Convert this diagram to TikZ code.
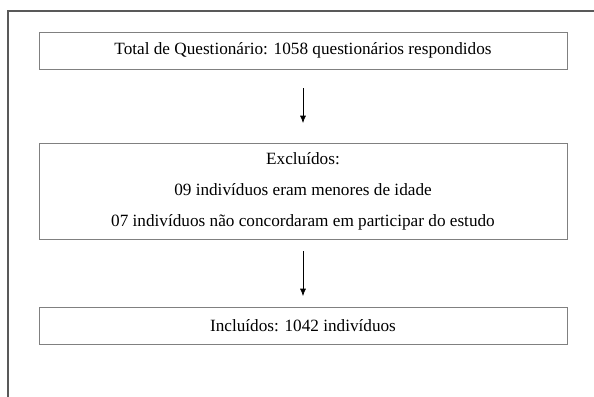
\documentclass[tikz,border=0pt]{standalone}
\usepackage{fontspec}
\setmainfont{Liberation Serif}
\usetikzlibrary{arrows.meta,positioning}

\begin{document}
\begin{tikzpicture}[x=0.75pt,y=-0.75pt,
  caixa/.style={draw=black!50,line width=0.75pt,minimum width=396pt,align=center,
    font=\fontsize{12.9}{23.25}\selectfont},
  seta/.style={-{Latex[length=5.5pt,width=4.5pt]},line width=0.5pt}]
\useasboundingbox (0,0) rectangle (594,397);
\draw[line width=1.1pt,black!65] (594,11) -- (8,11) -- (8,397);
\node[caixa,minimum height=27.75pt] (total) at (303,50.5) {Total de Questionário: 1058 questionários respondidos};
\node[caixa,minimum height=72pt] (excl) at (303,191) {Excluídos:\\09 indivíduos eram menores de idade\\07 indivíduos não concordaram em participar do estudo};
\node[caixa,minimum height=27.75pt] (incl) at (303,325.5) {Incluídos: 1042 indivíduos};
\coordinate (seta1a) at (303,88);
\coordinate (seta1b) at (303,123);
\coordinate (seta2a) at (303,251);
\coordinate (seta2b) at (303,296);
\draw[seta] (seta1a) to (seta1b);
\draw[seta] (seta2a) to (seta2b);
\end{tikzpicture}
\end{document}
